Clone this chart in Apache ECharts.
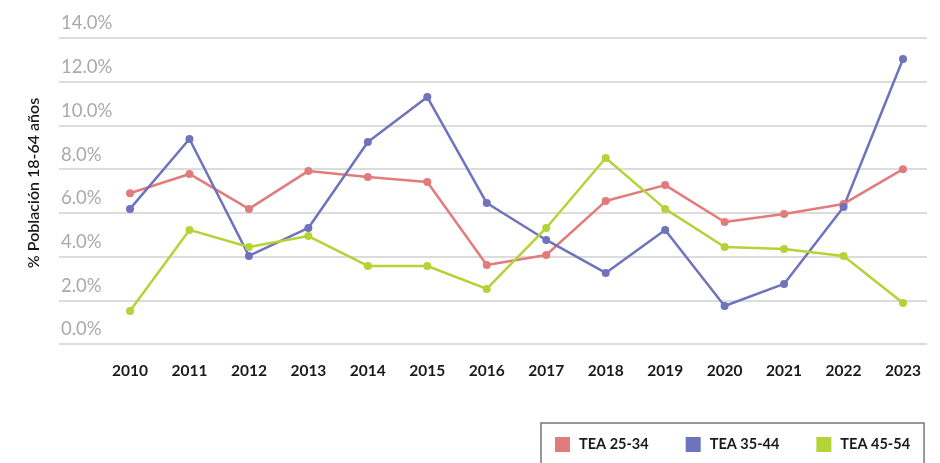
<!DOCTYPE html>
<html>
<head>
<meta charset="utf-8">
<script src="https://cdn.jsdelivr.net/npm/echarts@6/dist/echarts.min.js"></script>
<style>
  html, body { margin: 0; padding: 0; background: #fff; }
  #chart { width: 940px; height: 463px; }
</style>
</head>
<body>
<div id="chart"></div>
<script>
const years = ["2010", "2011", "2012", "2013", "2014", "2015", "2016", "2017", "2018", "2019", "2020", "2021", "2022", "2023"];
const tea2534 = [6.9, 7.78, 6.18, 7.92, 7.64, 7.41, 3.61, 4.07, 6.54, 7.27, 5.58, 5.95, 6.41, 8.0];
const tea3544 = [6.18, 9.38, 4.03, 5.31, 9.24, 11.3, 6.45, 4.76, 3.25, 5.22, 1.74, 2.75, 6.27, 13.04];
const tea4554 = [1.51, 5.22, 4.44, 4.94, 3.57, 3.57, 2.52, 5.31, 8.51, 6.18, 4.44, 4.35, 4.03, 1.88];
const seriesNames = ["TEA 25-34", "TEA 35-44", "TEA 45-54"];
const colors = ["#e27c7c", "#6e73bb", "#b4d336"];

const mychart = echarts.init(document.getElementById("chart"));

const mkSeries = (name, data, i) => ({
  name: name,
  type: "line",
  xAxisIndex: 1,
  yAxisIndex: 1,
  data: data,
  symbol: "circle",
  symbolSize: 8,
  lineStyle: { width: 2.5, color: colors[i] },
  itemStyle: { color: colors[i] },
  z: 3,
});

let option = {
  animation: false,
  textStyle: { fontFamily: "Lato" },
  legend: {
    data: seriesNames,
    left: 541,
    top: 423,
    width: 387,
    padding: [14, 14, 30, 14],
    itemGap: 37,
    itemWidth: 15,
    itemHeight: 15,
    icon: "rect",
    borderColor: "#777",
    borderWidth: 1.5,
    textStyle: { fontSize: 14.5, color: "#1a1a1a", fontWeight: 700, padding: [0, 0, 0, 4] },
  },
  grid: [
    // grid for the gridlines and y labels
    { left: 59, right: 13, top: 38, bottom: 119 },
    // grid for the data
    { left: 130, right: 37, top: 38, bottom: 119 },
  ],
  xAxis: [
    { type: "category", gridIndex: 0, data: years, show: false },
    {
      type: "category",
      gridIndex: 1,
      data: years,
      boundaryGap: false,
      axisLine: { show: false },
      axisTick: { show: false },
      axisLabel: { color: "#1a1a1a", fontSize: 15.5, fontWeight: 700, margin: 19 },
    },
  ],
  yAxis: [
    {
      type: "value",
      gridIndex: 0,
      min: 0,
      max: 14,
      interval: 2,
      axisLine: { show: false },
      axisTick: { show: false },
      splitLine: { lineStyle: { color: "#dcdcdc", width: 2 } },
      axisLabel: {
        inside: true,
        margin: 2,
        align: "left",
        verticalAlign: "bottom",
        padding: [0, 0, 5, 0],
        color: "#aaa",
        fontSize: 18.5,
        formatter: (v) => v.toFixed(1) + "%",
      },
      name: "% Población 18-64 años",
      nameLocation: "middle",
      nameRotate: 90,
      nameGap: 17,
      nameTextStyle: { color: "#1a1a1a", fontSize: 16, fontWeight: 600, padding: [0, 0, 0, 16] },
    },
    {
      type: "value",
      gridIndex: 1,
      min: 0,
      max: 14,
      interval: 2,
      show: false,
      splitLine: { show: false },
    },
  ],
  series: [
    mkSeries(seriesNames[0], tea2534, 0),
    mkSeries(seriesNames[1], tea3544, 1),
    mkSeries(seriesNames[2], tea4554, 2),
  ],
};
mychart.setOption(option);
</script>
</body>
</html>
